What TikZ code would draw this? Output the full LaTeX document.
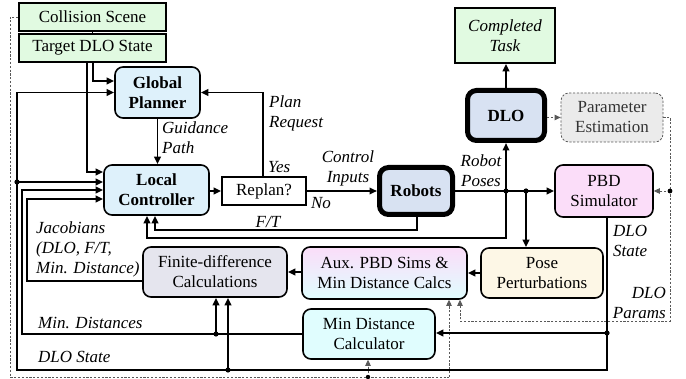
\documentclass[tikz,border=0pt]{standalone}
\usepackage{fontspec}
\setmainfont{LiberationSerif}[Extension=.ttf, UprightFont=*-Regular,
  BoldFont=*-Bold, ItalicFont=*-Italic, BoldItalicFont=*-BoldItalic]
\usetikzlibrary{arrows.meta}

\definecolor{cgreen}{RGB}{225,250,225}
\definecolor{cblue}{RGB}{222,241,251}
\definecolor{cheavy}{RGB}{216,226,242}
\definecolor{cgray}{RGB}{235,235,235}
\definecolor{cpink}{RGB}{251,221,249}
\definecolor{ccream}{RGB}{253,247,230}
\definecolor{ccyan}{RGB}{224,253,254}
\definecolor{clav}{RGB}{229,229,238}

\begin{document}
\begin{tikzpicture}[x=1pt,y=-1pt,
  txt/.style={font=\rmfamily\fontsize{17}{20}\selectfont},
  bftxt/.style={font=\rmfamily\fontsize{17}{20}\selectfont\bfseries},
  box/.style={draw, line width=1.6pt, rounded corners=8pt, align=center,
    inner sep=0pt, txt},
  sqbox/.style={draw, line width=1.6pt, align=center, inner sep=0pt, txt},
  heavy/.style={draw, line width=5pt, rounded corners=9pt, align=center,
    inner sep=0pt, fill=cheavy, bftxt},
  conn/.style={line width=1.8pt},
  arr/.style={conn, -{Triangle[length=7.5pt,width=6.5pt]}},
  dsh/.style={line width=0.8pt, dash pattern=on 2.2pt off 1.6pt, draw=black!65},
  darr/.style={dsh, -{Triangle[length=6pt,width=5.5pt]}},
  lbl/.style={font=\rmfamily\fontsize{17}{20}\selectfont\itshape, inner sep=0pt, align=left},
  dot/.style={fill=black}
]
\useasboundingbox (0,0) rectangle (686,379);

% ---- blocks ----
\node[sqbox, fill=cgreen, minimum width=147pt, minimum height=28pt] (cs) at (92.5,17) {Collision Scene};
\node[sqbox, fill=cgreen, minimum width=147pt, minimum height=28pt] (tds) at (92.5,48) {Target DLO State};
\node[box, fill=cblue, bftxt, minimum width=85pt, minimum height=51pt] (gp) at (157.5,92.5) {Global\\Planner};
\node[box, fill=cblue, bftxt, minimum width=105pt, minimum height=50pt] (lc) at (156.5,190) {Local\\Controller};
\node[sqbox, fill=white, minimum width=84pt, minimum height=28pt] (rp) at (264,191) {Replan?};
\node[heavy, minimum width=73pt, minimum height=47pt] (rob) at (416,191) {Robots};
\node[heavy, minimum width=77pt, minimum height=50pt] (dlo) at (506,115.5) {DLO};
\node[sqbox, fill=cgreen, font=\rmfamily\fontsize{17}{20}\selectfont\itshape, minimum width=100pt, minimum height=55pt] (ct) at (505,35.5) {Completed\\Task};
\node[box, dsh, fill=cgray, text=black!80, minimum width=102pt, minimum height=49pt] (pe) at (612,117.5) {Parameter\\Estimation};
\node[box, fill=cpink, minimum width=98pt, minimum height=52pt] (pbd) at (604,191) {PBD\\Simulator};
\node[box, fill=ccream, minimum width=122pt, minimum height=50pt] (pp) at (542,273) {Pose\\Perturbations};
\node[box, top color=cpink, bottom color=ccyan, minimum width=165pt, minimum height=52pt] (aux) at (384.5,273) {Aux. PBD Sims \&\\Min Distance Calcs};
\node[box, fill=clav, minimum width=144pt, minimum height=50pt] (fd) at (215,272) {Finite-difference\\Calculations};
\node[box, fill=ccyan, minimum width=132pt, minimum height=50pt] (mdc) at (369,334) {Min Distance\\Calculator};

% ---- junction points ----
\coordinate (stL) at (17,370);
\coordinate (stJ) at (17,182);
\coordinate (stFD) at (228,370);
\coordinate (stMD) at (607,333);
\coordinate (mdC) at (22,190);
\coordinate (mdFD) at (216,334);
\coordinate (jacC) at (27,199);
\coordinate (ftC) at (155,230);
\coordinate (rpJ1) at (506,191);
\coordinate (rpJ2) at (526,191);
\coordinate (rpC) at (147,238);
\coordinate (pmC) at (670,321);
\coordinate (pmJ) at (670,191);
\coordinate (auxP) at (460,321);
\coordinate (scL) at (10,377);
\coordinate (scR) at (449,377);
\coordinate (scJ) at (368,377);

% ---- goal inputs ----
\draw[conn] (cs.south) -- (tds.north);
\draw[arr] ([xshift=0.5pt]tds.south) |- ([yshift=11.5pt]gp.west);
\draw[arr] ([xshift=-5.5pt]tds.south) |- ([yshift=18pt]lc.west);

% ---- planning / control loop ----
\draw[arr] (gp.south) -- (gp.south |- lc.north);
\draw[arr] (lc.east |- rp.west) -- (rp.west);
\draw[arr] ([xshift=-1pt]rp.north) |- (gp.east);
\draw[arr] (rp.east) -- (rp.east -| rob.west);
\draw[arr] ([xshift=1pt]rob.south) |- (ftC) -- (ftC |- lc.south);

% ---- robot poses ----
\draw[arr] (rob.east) -- (rob.east -| pbd.west);
\draw[arr] (rpJ1) -- (rpJ1 |- dlo.south);
\draw[arr] (rpJ1) |- (rpC) -- (rpC |- lc.south);
\draw[arr] (rpJ2) -- (rpJ2 |- pp.north);
\fill[dot] (rpJ1) circle (2.6pt);
\fill[dot] (rpJ2) circle (2.6pt);
\draw[arr] (dlo.north) -- (dlo.north |- ct.south);

% ---- parameter estimation ----
\draw[darr] (pe.west -| dlo.east) -- (pe.west);
\draw[darr] (pe.east) -| (pmC) -- (auxP) -- (auxP |- aux.south);
\draw[darr] (pmJ) -- (pmJ -| pbd.east);
\fill[dot] (pmJ) circle (2.4pt);

% ---- collision scene feed ----
\draw[dsh] (cs.west) -| (scL) -- (scR);
\draw[darr] (scR) -- (scR |- aux.south);
\draw[darr] (scJ) -- (scJ |- mdc.south);
\fill[dot] (scJ) circle (2.2pt);

% ---- DLO state bus ----
\draw[arr] ([xshift=3pt]pbd.south) |- (stL) |- (gp.west);
\draw[arr] (stJ) -- (stJ -| lc.west);
\fill[dot] (stJ) circle (2.6pt);
\draw[arr] (stFD) -- (stFD |- fd.south);
\fill[dot] (stFD) circle (2.6pt);
\draw[arr] (stMD) -- (stMD -| mdc.east);
\fill[dot] (stMD) circle (2.6pt);

% ---- sensitivities ----
\draw[arr] (pp.west |- aux.east) -- (aux.east);
\draw[arr] (aux.west |- fd.east) -- (fd.east);
\draw[arr] (mdc.west) -| (mdC) -- (mdC -| lc.west);
\draw[arr] (mdFD) -- (mdFD |- fd.south);
\fill[dot] (mdFD) circle (2.6pt);
\draw[arr] ([yshift=-9pt]fd.west) -| (jacC) -- (jacC -| lc.west);

% ---- labels ----
\node[lbl, anchor=west] (lguide) at (162,138) {Guidance\\Path};
\node[lbl, anchor=west] (lplan) at (269,113) {Plan\\Request};
\node[lbl, anchor=west] (lyes) at (268,167) {Yes};
\node[lbl, align=center] (lctl) at (348,168) {Control\\Inputs};
\node[lbl] (lno) at (321,203) {No};
\node[lbl, align=center] (lpose) at (481,171) {Robot\\Poses};
\node[lbl] (lft) at (268,222) {F/T};
\node[lbl, anchor=west] (lstate) at (613,241) {DLO\\State};
\node[lbl, anchor=east, align=right] (lparam) at (666,303) {DLO\\Params};
\node[lbl, anchor=west] (ljac) at (36,249) {Jacobians\\(DLO, F/T,\\Min. Distance)};
\node[lbl, anchor=west] (lmin) at (38,323) {Min. Distances};
\node[lbl, anchor=west] (lbus) at (38,357) {DLO State};
\end{tikzpicture}
\end{document}
